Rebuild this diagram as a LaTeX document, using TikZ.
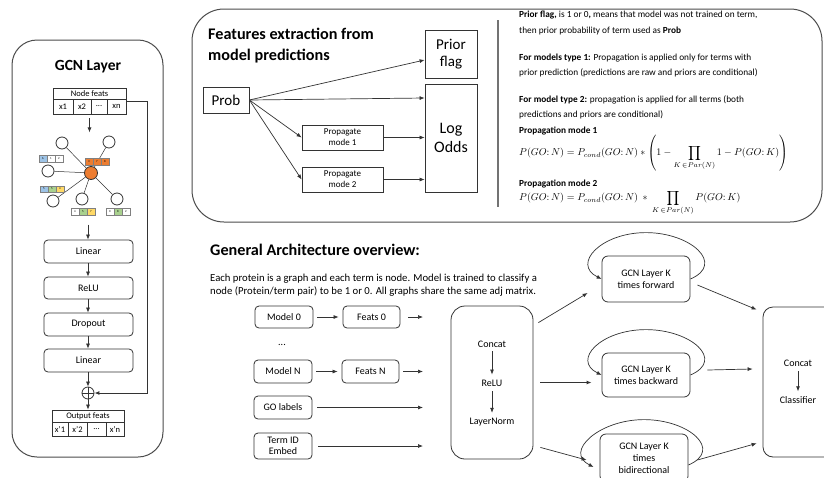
\documentclass[tikz,border=0pt]{standalone}
\usepackage{fontspec}
\setmainfont{Carlito}
\usetikzlibrary{arrows.meta}
\definecolor{orng}{HTML}{ED7D31}
\definecolor{bl}{HTML}{9DC3E6}
\definecolor{gr}{HTML}{A9D18E}
\definecolor{yl}{HTML}{FFD966}
\definecolor{ln}{HTML}{333333}
\begin{document}
\begin{tikzpicture}[x=1pt,y=-1pt,
  arr/.style={-{Latex[length=5pt,width=4pt]}, line width=0.7pt, draw=ln},
  rbox/.style={draw=ln, line width=0.8pt, rounded corners=4pt, align=center, inner sep=0pt},
  sbox/.style={draw=ln, line width=0.8pt, align=center, inner sep=0pt},
  panel/.style={draw=black!70, line width=1pt},
  cell/.style={draw=black!50, line width=0.3pt, minimum width=8pt, minimum height=6.5pt, inner sep=0pt, font=\fontsize{3}{3}\selectfont},
  gn/.style={circle, draw=ln, line width=0.8pt, fill=white, minimum size=12pt, inner sep=0pt},
  f8/.style={font=\fontsize{8.5}{10}\selectfont, inner sep=0pt},
  f10/.style={font=\fontsize{10}{12}\selectfont},
  f15/.style={font=\fontsize{15}{17}\selectfont},
  ttl/.style={font=\fontsize{16.2}{20.5}\selectfont\bfseries, inner sep=0pt},
  txt/.style={font=\fontsize{9.3}{12}\selectfont, anchor=base west, inner sep=0pt},
  atxt/.style={font=\fontsize{10.7}{12}\selectfont, anchor=base west, inner sep=0pt}
]
\useasboundingbox (0,0) rectangle (824,477);
\fill[white] (0,0) rectangle (824,477);

% ---------------- GCN layer panel
\draw[panel, rounded corners=25pt] (12,40) rectangle (163,457);
\node[ttl, font=\fontsize{15.5}{18}\selectfont\bfseries] (gt) at (88,67) {GCN Layer};

\node[sbox, minimum width=73pt, minimum height=26pt] (nf) at (89.5,101) {};
\draw[ln, line width=0.6pt] (53,99) -- (126,99) (73,99) -- (73,114) (91,99) -- (91,114) (107,99) -- (107,114);
\node[f8] (nft) at (89.5,93.5) {Node feats};
\node[f8] (x1) at (63,106.5) {x1};
\node[f8] (x2) at (82,106.5) {x2};
\node[f8] (xd) at (99,106.5) {...};
\node[f8] (xn) at (116.5,106.5) {xn};

\draw[arr] ([yshift=-4pt]nf.south) -- ([yshift=-18pt]nf.south);

% graph
\node[gn, fill=orng, minimum size=13pt] (gc) at (91,173) {};
\node[gn] (g1) at (62,143) {};
\node[gn] (g2) at (109,142) {};
\node[gn] (g3) at (48,171) {};
\node[gn] (g4) at (53,201) {};
\node[gn] (g5) at (82,199) {};
\node[gn] (g6) at (117,199) {};
\foreach \g in {g1,g2,g3,g4,g5,g6} \draw[ln, line width=0.5pt] (gc) -- (\g);

\node[cell, fill=bl] (v1a) at (43,158.5) {6};
\node[cell, fill=white] (v1b) at (51,158.5) {1};
\node[cell, fill=white] (v1c) at (59,158.5) {2};
\node[cell, fill=orng] (v2a) at (89,161.5) {3};
\node[cell, fill=orng] (v2b) at (97,161.5) {7};
\node[cell, fill=orng] (v2c) at (105,161.5) {8};
\node[cell, fill=bl] (v3a) at (44,189) {5};
\node[cell, fill=gr] (v3b) at (52,189) {5};
\node[cell, fill=yl] (v3c) at (60,189) {4};
\node[cell, fill=white] (v4a) at (75,211.5) {4};
\node[cell, fill=gr] (v4b) at (83,211.5) {5};
\node[cell, fill=yl] (v4c) at (91,211.5) {7};
\node[cell, fill=white] (v5a) at (110,211.5) {0};
\node[cell, fill=gr] (v5b) at (118,211.5) {8};
\node[cell, fill=white] (v5c) at (126,211.5) {2};

% layers
\node[rbox, f10, minimum width=89pt, minimum height=23pt] (l1) at (88.5,251.5) {Linear};
\node[rbox, f10, minimum width=89pt, minimum height=22pt] (l2) at (88.5,288) {ReLU};
\node[rbox, f10, minimum width=89pt, minimum height=23pt] (l3) at (88.5,324.5) {Dropout};
\node[rbox, f10, minimum width=89pt, minimum height=23pt] (l4) at (88.5,360.5) {Linear};
\draw[arr] ([yshift=15pt]l1.north -| 88,0) -- (l1.north -| 88,0);
\draw[arr] (l1.south -| 88,0) -- (l2.north -| 88,0);
\draw[arr] (l2.south -| 88,0) -- (l3.north -| 88,0);
\draw[arr] (l3.south -| 88,0) -- (l4.north -| 88,0);

\node[circle, draw=ln, line width=0.8pt, minimum size=12pt, inner sep=0pt] (op) at (88,393) {};
\draw[ln, line width=0.8pt] (op.north) -- (op.south) (op.west) -- (op.east);
\draw[arr] (l4.south -| op) -- (op.north);

\node[sbox, minimum width=72pt, minimum height=26pt] (of) at (88,423) {};
\draw[ln, line width=0.6pt] (52,422) -- (124,422) (68,422) -- (68,436) (87,422) -- (87,436) (106,422) -- (106,436);
\node[f8] (oft) at (88,416) {Output feats};
\node[f8] (y1) at (60,429.5) {x'1};
\node[f8] (y2) at (77.5,429.5) {x'2};
\node[f8] (yd) at (96.5,429.5) {...};
\node[f8] (yn) at (115,429.5) {x'n};
\draw[arr] (op.south) -- (op.south |- of.north);

\draw[arr, line width=1pt] (nf.east) -- ++(21,0) |- (op.east);

% ---------------- Features extraction panel
\draw[panel, rounded corners=32pt] (192,9) rectangle (822,222);
\node[ttl, align=left, anchor=north west] (ft) at (208,28) {Features extraction from\\model predictions};

\node[sbox, f15, minimum width=46pt, minimum height=26pt] (prob) at (226,100) {Prob};
\node[sbox, f15, minimum width=52pt, minimum height=48pt] (pf) at (451,54) {Prior\\flag};
\node[sbox, font=\fontsize{16}{19}\selectfont, minimum width=52pt, minimum height=108pt] (lo) at (451,138) {Log\\Odds};
\node[sbox, font=\fontsize{9}{11}\selectfont, minimum width=81pt, minimum height=25pt] (p1) at (342.5,137.5) {Propagate\\mode 1};
\node[sbox, font=\fontsize{9}{11}\selectfont, minimum width=81pt, minimum height=25pt] (p2) at (342.5,179.5) {Propagate\\mode 2};
\draw[arr] (prob.east) -- ([yshift=-6pt]pf.west);
\draw[arr] (prob.east) -- ([yshift=40pt]lo.west);
\draw[arr] (prob.east) -- (p1.west);
\draw[arr] (prob.east) -- (p2.west);
\draw[arr] (p1.east) -- (p1 -| lo.west);
\draw[arr] (p2.east) -- (p2 -| lo.west);

\draw[black!55, line width=1.2pt] (498,20) -- (498,207);

\node[txt] (t1) at (519,17) {\textbf{Prior flag,} is 1 or 0\textbf{,} means that model was not trained on term,};
\node[txt] (t2) at (519,33) {then prior probability of term used as \textbf{Prob}};
\node[txt] (t3) at (519,60) {\textbf{For models type 1:} Propagation is applied only for terms with};
\node[txt] (t4) at (519,75) {prior prediction (predictions are raw and priors are conditional)};
\node[txt] (t5) at (519,102) {\textbf{For model type 2:} propagation is applied for all terms (both};
\node[txt] (t6) at (519,117) {predictions and priors are conditional)};
\node[txt] (t7) at (519,133.5) {\textbf{Propagation mode 1}};
\node[anchor=base west, inner sep=0pt, font=\fontsize{9.6}{12}\selectfont] (fm1) at (519,155.5)
  {$P(GO\colon N) = P_{cond}(GO\colon N) * \left(1-\displaystyle\prod_{K\,\in Par(N)} 1 - P(GO\colon K)\right)$};
\node[txt] (t8) at (519,186.5) {\textbf{Propagation mode 2}};
\node[anchor=base west, inner sep=0pt, font=\fontsize{10}{12}\selectfont] (fm2) at (519,200.5)
  {$P(GO\colon N) = P_{cond}(GO\colon N)\ *\ \displaystyle\prod_{K\,\in Par(N)} P(GO\colon K)$};

% ---------------- General architecture
\node[ttl, anchor=base west] (gat) at (210,255.5) {General Architecture overview:};
\node[atxt] (a1) at (210,281) {Each protein is a graph and each term is node. Model is trained to classify a};
\node[atxt] (a2) at (210,294.5) {node (Protein/term pair) to be 1 or 0. All graphs share the same adj matrix.};

\node[rbox, f10, minimum width=58pt, minimum height=22pt] (m0) at (284,317) {Model 0};
\node[rbox, f10, minimum width=57pt, minimum height=22pt] (f0) at (371.5,317) {Feats 0};
\node[f10, inner sep=0pt] (dots) at (282,345) {...};
\node[rbox, f10, minimum width=58pt, minimum height=23pt] (mN) at (283,371.5) {Model N};
\node[rbox, f10, minimum width=57pt, minimum height=23pt] (fN) at (370.5,371.5) {Feats N};
\node[rbox, f10, minimum width=58pt, minimum height=23pt] (go) at (283,407.5) {GO labels};
\node[rbox, font=\fontsize{10}{11.5}\selectfont, minimum width=58pt, minimum height=26pt] (te) at (283,446) {Term ID\\Embed};

\node[rbox, rounded corners=14pt, minimum width=82pt, minimum height=153pt] (cc) at (492,382.5) {};
\node[f10, inner sep=0pt] (ccat) at (492,344) {Concat};
\node[f10, inner sep=0pt] (crelu) at (492,383) {ReLU};
\node[f10, inner sep=0pt] (cln) at (492,422) {LayerNorm};
\draw[arr] ([yshift=-4pt]ccat.south) -- ([yshift=5pt]crelu.north);
\draw[arr] ([yshift=-5pt]crelu.south) -- ([yshift=5pt]cln.north);

\coordinate (inx) at (423,0);
\draw[arr, shorten <=4pt, shorten >=4pt] (m0) -- (f0);
\draw[arr, shorten <=4pt, shorten >=4pt] (mN) -- (fN);
\draw[arr] ([xshift=8pt]f0.east) -- (inx |- f0);
\draw[arr] ([xshift=4pt]fN.east) -- (inx |- fN);
\draw[arr] ([xshift=5pt]go.east) -- (inx |- go);
\draw[arr] ([xshift=6pt]te.east) -- (inx |- te);

\node[rbox, f10, rounded corners=6pt, minimum width=88pt, minimum height=46pt] (fw) at (646,279) {GCN Layer K\\times forward};
\node[rbox, f10, rounded corners=6pt, minimum width=88pt, minimum height=44pt] (bw) at (646,375) {GCN Layer K\\times backward};
\node[rbox, font=\fontsize{10}{12}\selectfont, rounded corners=6pt, minimum width=88pt, minimum height=48pt] (bd) at (644,458) {GCN Layer K\\times\\bidirectional};

\draw[arr] (fw.east) .. controls +(35,-15) and +(45,0) .. ([yshift=23pt]fw.north) .. controls +(-45,0) and +(-30,-15) .. (fw.west);
\draw[arr] (bw.east) .. controls +(35,-15) and +(45,0) .. ([yshift=23pt]bw.north) .. controls +(-45,0) and +(-30,-15) .. (bw.west);
\draw[arr] ([yshift=-7pt]bd.east) .. controls +(35,-15) and +(45,0) .. ([yshift=14pt]bd.north) .. controls +(-45,0) and +(-30,-15) .. ([yshift=-9pt,xshift=-6pt]bd.west);

\draw[arr] ([xshift=5pt,yshift=-17pt]cc.north east) -- ([xshift=-14pt,yshift=-14pt]fw.west);
\draw[arr, line width=1pt] ([xshift=7pt]cc.east) -- ([xshift=-10pt]bw.west |- cc.east);
\draw[arr] ([xshift=7pt,yshift=12pt]cc.south east) -- ([xshift=-13pt,yshift=-2pt]bd.west);

\node[rbox, rounded corners=10pt, minimum width=120pt, minimum height=150pt] (fin) at (823,382) {};
\node[f10, inner sep=0pt] (fcat) at (798,363) {Concat};
\node[f10, inner sep=0pt] (fcls) at (798,400) {Classifier};
\draw[arr] ([yshift=-5pt]fcat.south) -- ([yshift=5pt]fcls.north);

\draw[arr] ([xshift=7pt,yshift=-6pt]fw.east) -- ([xshift=-6pt,yshift=-3pt]fin.north west);
\draw[arr] ([xshift=17pt,yshift=5pt]bw.east) -- ([xshift=-10pt,yshift=13pt]fin.west);
\draw[arr] ([xshift=9pt,yshift=-2pt]bd.east) -- ([xshift=-6pt,yshift=14pt]fin.south west);
\end{tikzpicture}
\end{document}
